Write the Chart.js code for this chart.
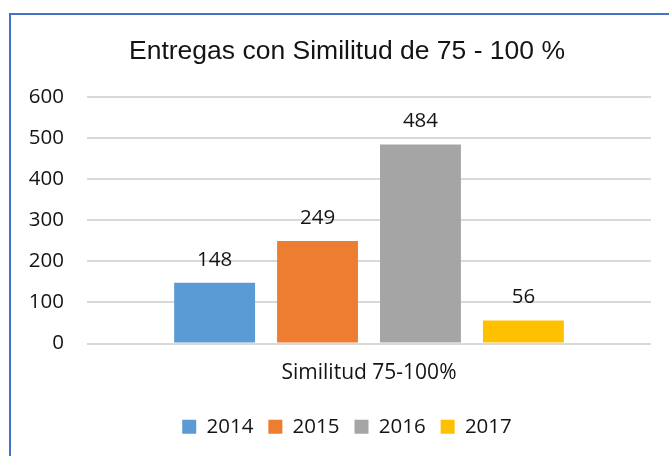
<!DOCTYPE html>
<html>
<head>
<meta charset="utf-8">
<script src="https://cdn.jsdelivr.net/npm/chart.js@4.4.1/dist/chart.umd.min.js"></script>
<style>
  html, body { margin: 0; padding: 0; background: #fff; }
  canvas { display: block; }
</style>
</head>
<body>
<canvas id="chart" width="669" height="456"></canvas>
<script>
// Entregas con similitud 75-100 %, one category, one bar per year
const CATEGORIES = ['Similitud 75-100%'];
const YEARS      = ['2014', '2015', '2016', '2017'];
const VALUES     = [148, 249, 484, 56];
const COLORS     = ['#5B9BD5', '#ED7D31', '#A5A5A5', '#FFC000'];
const Y_TICKS    = [0, 100, 200, 300, 400, 500, 600];

const TEXT = '#141414';
const BODY_FONT = 'Open Sans';

// ── Frame: white fill + blue border (right/bottom run off the picture) ────
const framePlugin = {
  id: 'frame',
  // the y axis box starts at the left padding; widen it so its labels are not clipped
  afterLayout(chart) {
    chart.scales.y.left = 0;
  },
  beforeDraw(chart) {
    const ctx = chart.ctx;
    ctx.save();
    ctx.fillStyle = '#fff';
    ctx.fillRect(0, 0, chart.width, chart.height);
    ctx.strokeStyle = '#4472C4';
    ctx.lineWidth = 2;
    ctx.strokeRect(10, 14, chart.width + 20, chart.height + 20);
    ctx.restore();
  }
};

// ── Value labels above each bar ───────────────────────────────────────────
const valueLabels = {
  id: 'valueLabels',
  afterDatasetsDraw(chart) {
    const ctx = chart.ctx;
    ctx.save();
    ctx.fillStyle = TEXT;
    ctx.font = `20.5px "${BODY_FONT}"`;
    ctx.textAlign = 'center';
    ctx.textBaseline = 'alphabetic';
    chart.data.datasets.forEach((ds, i) => {
      chart.getDatasetMeta(i).data.forEach((bar, j) => {
        ctx.fillText(String(ds.data[j]), bar.x, bar.y - 17);
      });
    });
    ctx.restore();
  }
};

const datasets = YEARS.map((y, i) => ({
  label: y,
  data: [VALUES[i]],
  backgroundColor: COLORS[i],
  borderWidth: 0,
  categoryPercentage: 0.73,
  barPercentage: 0.786
}));

new Chart(document.getElementById('chart'), {
  type: 'bar',
  data: { labels: CATEGORIES, datasets },
  plugins: [framePlugin, valueLabels],
  options: {
    responsive: false,
    animation: false,
    layout: { padding: { top: 11, left: 43, right: 18, bottom: 9 } },
    plugins: {
      title: {
        display: true,
        text: 'Entregas con Similitud de 75 - 100 %',
        color: TEXT,
        font: { family: 'Liberation Sans', size: 26.5, weight: 'normal' },
        padding: { top: 25, bottom: 29 }
      },
      legend: {
        position: 'bottom',
        labels: {
          color: TEXT,
          font: { family: BODY_FONT, size: 20.5 },
          boxWidth: 14,
          boxHeight: 14,
          padding: 15
        }
      },
      tooltip: { enabled: false }
    },
    scales: {
      x: {
        afterFit: s => { s.height = 58; },
        grid: { display: false, drawTicks: false },
        border: { display: false },
        ticks: { color: TEXT, font: { family: BODY_FONT, size: 21 }, padding: 16.5 }
      },
      y: {
        min: 0,
        max: 600,
        afterFit: s => { s.width = 44; },
        afterBuildTicks: s => { s.ticks = Y_TICKS.map(v => ({ value: v })); },
        grid: { color: '#d9d9d9', lineWidth: 2, drawTicks: false },
        border: { display: false },
        ticks: { color: TEXT, font: { family: BODY_FONT, size: 20.5 }, padding: 23 }
      }
    }
  }
});
</script>
</body>
</html>
